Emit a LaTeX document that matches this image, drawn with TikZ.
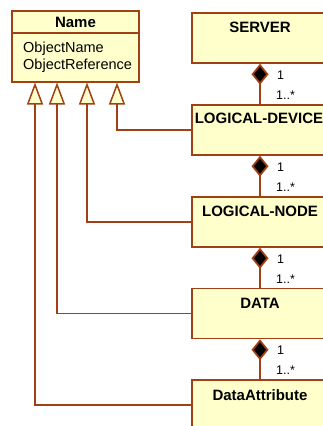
\documentclass[tikz,border=0pt]{standalone}
\usepackage{fontspec}
\setmainfont{Liberation Sans}
\usetikzlibrary{arrows.meta,calc}
\definecolor{umlline}{RGB}{160,64,20}
\definecolor{umlfill}{RGB}{255,255,204}
\tikzset{
  umlbox/.style={draw=umlline, fill=umlfill, line width=1.5pt, rectangle,
    minimum width=136pt, minimum height=50pt, inner sep=0pt},
  boxtitle/.style={font=\fontsize{15}{17}\selectfont\bfseries, inner sep=0pt, anchor=center},
  attr/.style={font=\fontsize{14.5}{17}\selectfont, inner sep=0pt, anchor=west},
  mult/.style={font=\fontsize{12.5}{14}\selectfont, inner sep=0pt, anchor=west},
  link/.style={draw=umlline, line width=1.5pt},
  compose/.style={link, {Diamond[length=21pt,width=17pt,fill=black,line width=1.8pt]}-},
  inherit/.style={link, -{Triangle[length=22pt,width=16pt,fill=umlfill,line width=1.5pt]}},
}
\begin{document}
\begin{tikzpicture}[x=1pt,y=-1pt]
\useasboundingbox (0,0) rectangle (323,426);
\clip (0,0) rectangle (323,426);

% class "Name" with its two attributes
\node[umlbox, minimum width=127pt, minimum height=71pt] (name) at (75.5,46.5) {};
\draw[link] (name.west |- 0,33) coordinate (sepl) -- (name.east |- 0,33) coordinate (sepr);
\node[boxtitle] (name-t) at (75.5,22) {Name};
\node[attr] (attr1) at (23,49) {ObjectName};
\node[attr] (attr2) at (23,66) {ObjectReference};

% hierarchy of classes on the right
\node[umlbox] (server) at (260,38) {};
\node[umlbox] (ld) at (260,130) {};
\node[umlbox] (ln) at (260,222) {};
\node[umlbox] (data) at (260,313.5) {};
\node[umlbox] (da) at (260,405) {};

\node[boxtitle] (server-t) at (260,27) {SERVER};
\node[boxtitle] (ld-t) at (259,118) {LOGICAL-DEVICE};
\node[boxtitle] (ln-t) at (260,211) {LOGICAL-NODE};
\node[boxtitle] (data-t) at (260,303) {DATA};
\node[boxtitle] (da-t) at (260,395) {DataAttribute};

% compositions with multiplicities (y grows downwards here)
\foreach \a/\b in {server/ld, ld/ln, ln/data, data/da}{
  \draw[compose] (\a.south) -- (\b.north);
  \node[mult] (\a-m1) at ($(\a.south)+(17,11)$) {1};
  \node[mult] (\a-m2) at ($(\b.north)+(16,-9)$) {1..*};
}

% generalisations to "Name"
\coordinate (g1) at (35,82.5);
\coordinate (g2) at (57,82.5);
\coordinate (g3) at (87,82.5);
\coordinate (g4) at (117,82.5);
\draw[inherit] (ld.west) -| (g4);
\draw[inherit] (ln.west) -| (g3);
\draw[inherit] (data.west) -| (g2);
\draw[inherit] (da.west) -| (g1);
\end{tikzpicture}
\end{document}
